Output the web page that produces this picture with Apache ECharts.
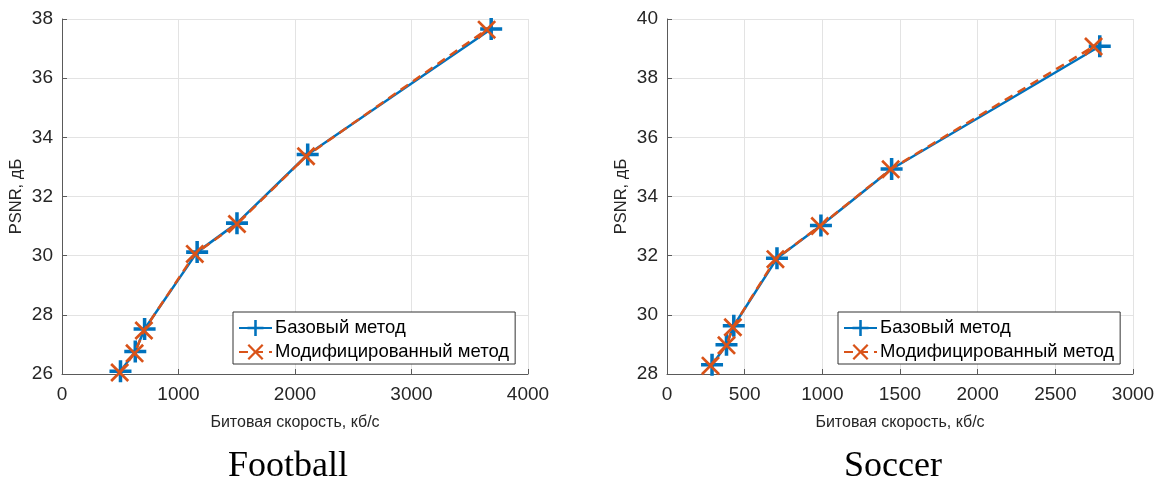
<!DOCTYPE html>
<html><head><meta charset="utf-8">
<script src="https://cdn.jsdelivr.net/npm/echarts@6/dist/echarts.min.js"></script>
<style>html,body{margin:0;padding:0;background:#fff}#c{width:1161px;height:481px}</style>
</head><body><div id="c"></div>
<script>
// Football
const footballBaseX = [502, 629, 709, 1160, 1502, 2109, 3684];
const footballBaseY = [26.09, 26.76, 27.52, 30.12, 31.10, 33.42, 37.66];
const footballModX  = [495, 623, 703, 1140, 1502, 2095, 3645];
const footballModY  = [26.05, 26.70, 27.47, 30.06, 31.07, 33.36, 37.64];
// Soccer
const soccerBaseX = [290, 383, 430, 708, 991, 1446, 2786];
const soccerBaseY = [28.31, 28.99, 29.63, 31.91, 33.02, 34.93, 39.08];
const soccerModX  = [280, 383, 424, 698, 984, 1440, 2746];
const soccerModY  = [28.28, 28.97, 29.58, 31.88, 33.00, 34.92, 39.07];

const names = ['Базовый метод', 'Модифицированный метод'];
const titles = ['Football', 'Soccer'];
const xLabel = 'Битовая скорость, кб/с';
const yLabel = 'PSNR, дБ';

const BLUE = '#0072BD', ORANGE = '#D95319', TXT = '#262626', AX = '#5a5a5a';
const PLUS = 'path://M42,0 L58,0 L58,42 L100,42 L100,58 L58,58 L58,100 L42,100 L42,58 L0,58 L0,42 L42,42 Z';
const CROSS = 'path://M0,10 L10,0 L50,40 L90,0 L100,10 L60,50 L100,90 L90,100 L50,60 L10,100 L0,90 L40,50 Z';

function zip(a, b) { return a.map((v, i) => [v, b[i]]); }

const grids = [
  {left: 62, top: 19, width: 466, height: 355},
  {left: 667, top: 19, width: 466, height: 355}
];
function xAxis(gi, max, interval) {
  return {type: 'value', gridIndex: gi, min: 0, max: max, interval: interval,
    name: xLabel, nameLocation: 'middle', nameGap: 41,
    nameTextStyle: {fontFamily: 'Liberation Sans', fontSize: 16, color: TXT},
    axisLine: {show: true, onZero: false, lineStyle: {color: AX, width: 1}},
    axisTick: {show: true, inside: true, length: 5, lineStyle: {color: AX}},
    axisLabel: {fontFamily: 'Liberation Sans', fontSize: 19, color: TXT, margin: 11,
      formatter: v => String(v)},
    splitLine: {show: true, lineStyle: {color: '#e3e3e3', width: 1}}};
}
function yAxis(gi, min, max) {
  return {type: 'value', gridIndex: gi, min: min, max: max, interval: 2,
    name: yLabel, nameLocation: 'middle', nameGap: 37,
    nameTextStyle: {fontFamily: 'Liberation Sans', fontSize: 16.5, color: TXT},
    axisLine: {show: true, onZero: false, lineStyle: {color: AX, width: 1}},
    axisTick: {show: true, inside: true, length: 5, lineStyle: {color: AX}},
    axisLabel: {fontFamily: 'Liberation Sans', fontSize: 19, color: TXT, margin: 9,
      formatter: v => String(v)},
    splitLine: {show: true, lineStyle: {color: '#e3e3e3', width: 1}}};
}
function base(gi, xs, ys) {
  return {type: 'line', name: names[0], xAxisIndex: gi, yAxisIndex: gi, data: zip(xs, ys),
    symbol: PLUS, symbolSize: 22, showAllSymbol: true, animation: false,
    lineStyle: {color: BLUE, width: 2.5}, itemStyle: {color: BLUE}, z: 2};
}
function mod(gi, xs, ys) {
  return {type: 'line', name: names[1], xAxisIndex: gi, yAxisIndex: gi, data: zip(xs, ys),
    symbol: CROSS, symbolSize: 19, showAllSymbol: true, animation: false,
    lineStyle: {color: ORANGE, width: 2.5, type: [9, 6]}, itemStyle: {color: ORANGE}, z: 3};
}
function legend(left, width) {
  return {data: names, orient: 'vertical', left: left, top: 312, itemWidth: 33, itemHeight: 20, itemGap: 4,
    padding: [6, 6, 2, 5], borderColor: '#333', borderWidth: 1, backgroundColor: '#fff', borderRadius: 0,
    textStyle: {fontFamily: 'Liberation Sans', fontSize: 18.5, color: '#000', lineHeight: 20, padding: [0, 0, 0, -2]},
    selectedMode: false};
}

const chart = echarts.init(document.getElementById('c'), null, {renderer: 'canvas'});
chart.setOption({
  animation: false,
  backgroundColor: '#fff',
  title: [
    {text: titles[0], left: 283, top: 444, textAlign: 'center', textStyle: {fontFamily: 'Liberation Serif', fontSize: 36, fontWeight: 'normal', color: '#000'}},
    {text: titles[1], left: 888, top: 444, textAlign: 'center', textStyle: {fontFamily: 'Liberation Serif', fontSize: 36, fontWeight: 'normal', color: '#000'}}
  ],
  grid: grids,
  xAxis: [xAxis(0, 4000, 1000), xAxis(1, 3000, 500)],
  yAxis: [yAxis(0, 26, 38), yAxis(1, 28, 40)],
  legend: [legend(233), legend(838)],
  series: [
    base(0, footballBaseX, footballBaseY), mod(0, footballModX, footballModY),
    base(1, soccerBaseX, soccerBaseY), mod(1, soccerModX, soccerModY)
  ]
});
</script></body></html>
